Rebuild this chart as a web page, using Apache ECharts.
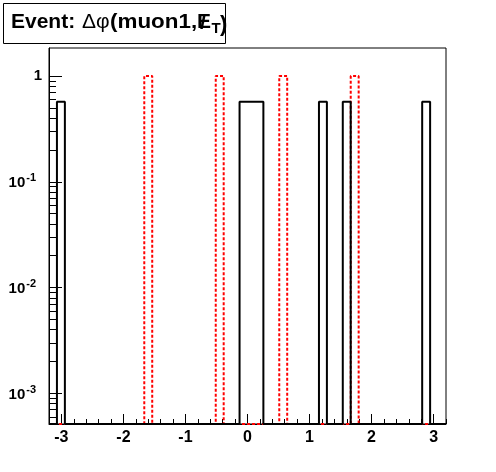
<!DOCTYPE html>
<html><head><meta charset="utf-8">
<script src="https://cdn.jsdelivr.net/npm/echarts@6/dist/echarts.min.js"></script>
<style>html,body{margin:0;padding:0;background:#fff}#c{width:496px;height:472px}</style>
</head><body><div id="c"></div>
<script>
// ---- Data ----
// Histogram binning (50 bins from -3.2 to 3.2)
const xMin = -3.2, xMax = 3.2, nBins = 50;
// Black histogram: low edges of the non-empty bins and their contents
const blackBinLow = [-3.072, -0.128, 0.0, 0.128, 1.152, 1.536, 2.816];
const blackBinVal = [0.571, 0.571, 0.571, 0.571, 0.571, 0.571, 0.571];
// Red dashed histogram
const redBinLow = [-1.664, -0.512, 0.512, 1.664];
const redBinVal = [1.0, 1.0, 1.0, 1.0];
// Axes
const yMin = 5.13e-4, yMax = 1.84;
const xTickValues = [-3, -2, -1, 0, 1, 2, 3];
const yTickValues = [1e-3, 1e-2, 1e-1, 1];

const FONT = '"Liberation Sans", Arial, Helvetica, sans-serif';

function outline(lows, vals) {
  const w = (xMax - xMin) / nBins;
  const contents = new Array(nBins).fill(0);
  lows.forEach((lo, k) => { contents[Math.round((lo - xMin) / w)] = vals[k]; });
  const pts = [[xMin, yMin]];
  for (let i = 0; i < nBins; i++) {
    const v = contents[i] > yMin ? contents[i] : yMin;
    pts.push([xMin + i * w, v]);
    pts.push([xMin + (i + 1) * w, v]);
  }
  pts.push([xMax, yMin]);
  return pts;
}

// minor ticks
const xMinor = [];
for (let k = -16; k <= 16; k++) { if (k % 5 !== 0) xMinor.push(+(k * 0.2).toFixed(1)); }
const yMinor = [];
for (let e = -4; e <= 0; e++) for (let m = 2; m <= 9; m++) {
  const v = +(m * Math.pow(10, e)).toPrecision(3);
  if (v >= yMin && v <= yMax) yMinor.push(v);
}

function txt(x, y, text, font, sx) {
  return {type: 'text', x: x, y: y, scaleX: sx || 1, z: 11,
    style: {text: text, font: font, fill: '#000', verticalAlign: 'middle', align: 'left'}};
}

const chart = echarts.init(document.getElementById('c'), null, {renderer: 'canvas'});
const option = {
  animation: false,
  backgroundColor: '#fff',
  grid: {left: 49, right: 50, top: 48, bottom: 48, show: true, borderColor: '#000', borderWidth: 1, backgroundColor: 'transparent'},
  xAxis: [{
    type: 'value', min: xMin, max: xMax, position: 'bottom',
    axisLine: {show: true, onZero: false, lineStyle: {color: '#000', width: 1}},
    axisTick: {show: true, inside: true, length: 10, customValues: xTickValues, lineStyle: {color: '#000', width: 1}},
    axisLabel: {customValues: xTickValues, margin: 6, fontFamily: FONT, fontWeight: 'bold', fontSize: 16, color: '#000',
      formatter: v => (v < 0 ? '-' + Math.abs(v) : String(v))},
    splitLine: {show: false}
  }, {
    type: 'value', min: xMin, max: xMax, position: 'bottom',
    axisLine: {show: false, onZero: false},
    axisTick: {show: true, inside: true, length: 5, customValues: xMinor, lineStyle: {color: '#000', width: 1}},
    axisLabel: {show: false}, splitLine: {show: false}
  }],
  yAxis: [{
    type: 'log', min: yMin, max: yMax, position: 'left',
    axisLine: {show: true, onZero: false, lineStyle: {color: '#000', width: 1}},
    axisTick: {show: true, inside: true, length: 13, customValues: yTickValues, lineStyle: {color: '#000', width: 1}},
    axisLabel: {customValues: yTickValues, margin: 7, color: '#000',
      formatter: v => { const e = Math.round(Math.log10(v)); return e === 0 ? '{m|1}' : '{m|10}{s|' + e + '}'; },
      rich: {
        m: {fontFamily: FONT, fontWeight: 'bold', fontSize: 15, color: '#000', verticalAlign: 'bottom'},
        s: {fontFamily: FONT, fontWeight: 'bold', fontSize: 11, color: '#000', verticalAlign: 'bottom', padding: [0, 6, 7, 1]}
      }},
    splitLine: {show: false}, minorTick: {show: false}
  }, {
    type: 'log', min: yMin, max: yMax, position: 'left',
    axisLine: {show: false, onZero: false},
    axisTick: {show: true, inside: true, length: 7, customValues: yMinor, lineStyle: {color: '#000', width: 1}},
    axisLabel: {show: false}, splitLine: {show: false}
  }],
  series: [{
    type: 'line', xAxisIndex: 0, yAxisIndex: 0, data: outline(redBinLow, redBinVal),
    symbol: 'none', clip: false, z: 3,
    lineStyle: {color: '#ff0000', width: 2, type: [3, 2]}
  }, {
    type: 'line', xAxisIndex: 0, yAxisIndex: 0, data: outline(blackBinLow, blackBinVal),
    symbol: 'none', clip: false, z: 4,
    lineStyle: {color: '#000', width: 2}
  }],
  graphic: [
    {type: 'rect', shape: {x: 3.5, y: 3.5, width: 222, height: 40}, style: {fill: '#fff', stroke: '#000', lineWidth: 1}, z: 10},
    txt(11, 22.5, 'Event:', 'bold 20px ' + FONT, 1.05),
    txt(82, 22.5, 'Δφ', '20px ' + FONT, 1.05),
    txt(110, 22.5, '(muon1,', 'bold 20px ' + FONT, 1.12),
    txt(197, 22.5, 'E', 'bold 20px ' + FONT, 1.05),
    txt(200, 23, '/', 'bold 20px ' + FONT, 1.1),
    txt(211.5, 29, 'T', 'bold 15px ' + FONT, 1.0),
    txt(220, 24.5, ')', 'bold 22px ' + FONT, 1.0)
  ]
};
chart.setOption(option);
</script>
</body></html>
